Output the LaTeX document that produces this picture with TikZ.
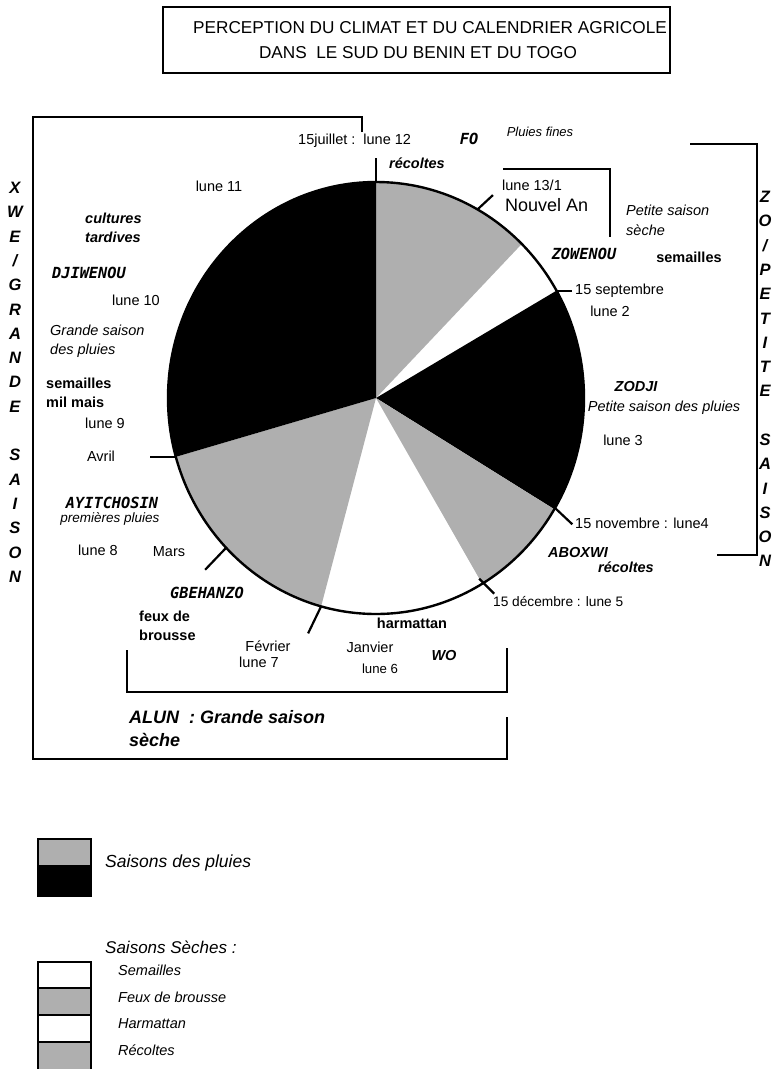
\documentclass[tikz,border=0pt]{standalone}
\usepackage{fontspec}
\setmainfont{Liberation Sans}
\newfontfamily\namefont{DejaVu Sans Mono}
\usepackage{xcolor}
\usepackage{tikz}
\usetikzlibrary{calc}
\definecolor{pgrey}{HTML}{AFAFAF}

\begin{document}
\begin{tikzpicture}[
  x=1pt,y=1pt,
  font=\fontsize{14.5}{19}\selectfont,
  tx/.style={inner sep=0pt},
  ti/.style={inner sep=0pt,font=\fontsize{14.5}{19}\selectfont\itshape},
  tb/.style={inner sep=0pt,font=\fontsize{14.5}{19}\selectfont\bfseries},
  tbi/.style={inner sep=0pt,font=\fontsize{14.5}{19}\selectfont\bfseries\itshape},
  nm/.style={inner sep=0pt,font=\namefont\fontsize{15.3}{19}\selectfont\bfseries\itshape},
  vl/.style={inner sep=0pt,anchor=north,align=center,
             font=\fontsize{16.5}{24.3}\selectfont\bfseries\itshape},
  rim/.style={line width=2.4pt},
  br/.style={line width=1.8pt},
  tk/.style={line width=2.2pt}
]
\useasboundingbox (0,0) rectangle (776,-1069);

% title
\draw[br] (163,-7) rectangle (670,-73);
\node[tx,font=\fontsize{17.2}{25}\selectfont] (title1) at (430,-28)
  {PERCEPTION DU CLIMAT ET DU CALENDRIER AGRICOLE};
\node[tx,font=\fontsize{17.2}{25}\selectfont] (title2) at (418,-53)
  {DANS\ \ LE SUD DU BENIN ET DU TOGO};

% pie
\coordinate (c) at (376,-398);
\fill[pgrey] (c) -- ($(c)+(45.5:208 and 216)$)
  arc[start angle=45.5,end angle=90,x radius=208,y radius=216] -- cycle;
\fill[black] (c) -- ($(c)+(-31:208 and 216)$)
  arc[start angle=-31,end angle=29.8,x radius=208,y radius=216] -- cycle;
\fill[pgrey] (c) -- ($(c)+(-59.3:208 and 216)$)
  arc[start angle=-59.3,end angle=-31,x radius=208,y radius=216] -- cycle;
\fill[pgrey] (c) -- ($(c)+(195.8:208 and 216)$)
  arc[start angle=195.8,end angle=254.7,x radius=208,y radius=216] -- cycle;
\fill[black] (c) -- ($(c)+(90:208 and 216)$)
  arc[start angle=90,end angle=195.8,x radius=208,y radius=216] -- cycle;
\draw[rim] (c) ellipse[x radius=208,y radius=216];

% ticks on the rim
\coordinate (r12) at ($(c)+(90:208 and 216)$);
\coordinate (rnouv) at ($(c)+(60.8:208 and 216)$);
\coordinate (rsept) at ($(c)+(29.8:208 and 216)$);
\coordinate (rnov) at ($(c)+(-31:208 and 216)$);
\coordinate (rdec) at ($(c)+(-59.3:208 and 216)$);
\coordinate (rfev) at ($(c)+(254.7:208 and 216)$);
\coordinate (rmars) at ($(c)+(223.9:208 and 216)$);
\coordinate (ravr) at ($(c)+(195.8:208 and 216)$);
\draw[tk] (r12) -- ++(0,24);
\draw[tk] (rnouv) -- ++(15.5,14.4);
\draw[tk] (rsept) -- ++(16,0);
\draw[tk] ($(rnov)+(1,1)$) -- ++(17,-16);
\draw[tk] ($(rdec)+(-3,5)$) -- ++(15,-15);
\draw[tk] (rfev) -- ++(-13,-27);
\draw[tk] (rmars) -- ++(-21,-22);
\draw[tk] (ravr) -- ++(-26,0);

% brackets
\draw[br] (362,-132) -- (362,-117) -- (33,-117) -- (33,-759) -- (507,-759) -- (507,-717);
\draw[br] (127,-650) -- (127,-692) -- (507,-692) -- (507,-648);
\draw[br] (503,-169) -- (610,-169) -- (610,-237);
\draw[br] (690,-144) -- (757,-144) -- (757,-555) -- (717,-555);

% side titles
\node[vl] (xwe) at (15,-182)
  {X\\W\\E\\/\\G\\R\\A\\N\\D\\E\\[24.3pt]S\\A\\I\\S\\O\\N};
\node[vl] (zo) at (765,-191)
  {Z\\O\\/\\P\\E\\T\\I\\T\\E\\[24.2pt]S\\A\\I\\S\\O\\N};

% left half
\node[tx] (lune11) at (219,-186) {lune 11};
\node[tbi,anchor=west,align=left] (cultures) at (85,-227.5) {cultures\\tardives};
\node[nm] (djiwenou) at (89,-273) {DJIWENOU};
\node[tx] (lune10) at (136,-300) {lune 10};
\node[ti,anchor=west,align=left] (gdpluies) at (50,-341.5) {Grande saison\\des pluies};
\node[tb,anchor=west,align=left] (semmil) at (46,-392.5) {semailles\\mil mais};
\node[tx] (lune9) at (105,-423) {lune 9};
\node[tx] (avril) at (101,-456) {Avril};
\node[nm] (ayitchosin) at (112,-503) {AYITCHOSIN};
\node[ti,font=\fontsize{13.5}{17}\selectfont\itshape] (premieres) at (110,-519)
  {premières pluies};
\node[tx] (lune8) at (98,-550) {lune 8};
\node[tx] (mars) at (169,-552) {Mars};
\node[nm] (gbehanzo) at (207,-593) {GBEHANZO};
\node[tb,anchor=west,align=left] (feux) at (139,-625.5) {feux de\\brousse};
\node[tx] (fevrier) at (268,-646) {Février};
\node[tx] (lune7) at (259,-662) {lune 7};
\node[tb] (harmattan) at (412,-623) {harmattan};
\node[tx] (janvier) at (370,-647) {Janvier};
\node[tx,font=\fontsize{13.2}{17}\selectfont] (lune6) at (380,-669) {lune 6};
\node[tbi] (wo) at (444,-655) {WO};
\node[tbi,font=\fontsize{18}{23}\selectfont\bfseries\itshape,anchor=west,align=left]
  (alun) at (129,-728.5) {ALUN\ \ : Grande saison\\sèche};

% right half
\node[tx,anchor=west] (juillet) at (298,-141) {15juillet :\ \ lune 12};
\node[tbi] (recoltesA) at (417,-163) {récoltes};
\node[nm] (fo) at (469,-139) {FO};
\node[ti,font=\fontsize{13}{17}\selectfont\itshape] (fines) at (540,-132) {Pluies fines};
\node[tx,anchor=west] (lune13) at (502,-185) {lune 13/1};
\node[tx,anchor=west,font=\fontsize{18}{22}\selectfont] (nouvelan) at (505,-205) {Nouvel An};
\node[ti,anchor=west,align=left,font=\fontsize{14.5}{20}\selectfont\itshape]
  (ptsseche) at (626,-220) {Petite saison\\sèche};
\node[nm] (zowenou) at (584,-254) {ZOWENOU};
\node[tb] (semailles) at (689,-257) {semailles};
\node[tx,anchor=west] (sept) at (575,-291) {15 septembre};
\node[tx] (lune2) at (610,-311) {lune 2};
\node[tbi] (zodji) at (636,-387) {ZODJI};
\node[ti] (ptspluies) at (664,-408) {Petite saison des pluies};
\node[tx] (lune3) at (623,-440) {lune 3};
\node[tx,anchor=west] (nov) at (575,-523) {15 novembre : lune4};
\node[tbi] (aboxwi) at (578,-552) {ABOXWI};
\node[tbi] (recoltesB) at (626,-567) {récoltes};
\node[tx,anchor=west,font=\fontsize{13.7}{17}\selectfont] (dec) at (493,-602)
  {15 décembre : lune 5};

% legend
\fill[pgrey] (38,-839) rectangle (91,-865);
\fill[black] (38,-865) rectangle (91,-896);
\draw[br] (38,-839) rectangle (91,-896);
\node[ti,anchor=west,font=\fontsize{17.5}{21}\selectfont\itshape] (kpluies) at (105,-863)
  {Saisons des pluies};
\node[ti,anchor=west,font=\fontsize{17}{21}\selectfont\itshape] (kseches) at (105,-947)
  {Saisons Sèches :};
\fill[pgrey] (38,-988) rectangle (91,-1015);
\fill[pgrey] (38,-1042) rectangle (91,-1070);
\draw[br] (38,-1070) -- (38,-962) -- (91,-962) -- (91,-1070);
\draw[br] (38,-988) -- (91,-988);
\draw[br] (38,-1015) -- (91,-1015);
\draw[br] (38,-1042) -- (91,-1042);
\node[ti,anchor=west] (ksem) at (118,-970) {Semailles};
\node[ti,anchor=west] (kfeux) at (118,-997) {Feux de brousse};
\node[ti,anchor=west] (kharm) at (118,-1024) {Harmattan};
\node[ti,anchor=west] (krec) at (118,-1050) {Récoltes};
\end{tikzpicture}
\end{document}
